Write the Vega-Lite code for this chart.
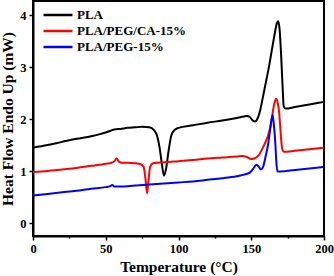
{
  "$schema": "https://vega.github.io/schema/vega-lite/v6.json",
  "width": 291,
  "height": 235,
  "autosize": {"type": "none"},
  "padding": {"left": 33, "top": 1, "right": 10, "bottom": 40},
  "config": {
    "view": {"stroke": "black", "strokeWidth": 2},
    "font": "Liberation Serif",
    "axis": {
      "domainColor": "black", "domainWidth": 2, "tickColor": "black", "tickWidth": 1.5,
      "labelFont": "Liberation Serif", "labelFontWeight": "bold", "labelFontSize": 12.5, "labelColor": "black",
      "titleFont": "Liberation Serif", "titleFontWeight": "bold", "titleFontSize": 15.5, "titleColor": "black",
      "grid": false
    }
  },
  "data": {
    "values": [
      {"s":"PLA","t":0,"v":1.45},{"s":"PLA","t":10,"v":1.5},{"s":"PLA","t":20,"v":1.56},{"s":"PLA","t":30,"v":1.62},{"s":"PLA","t":40,"v":1.67},{"s":"PLA","t":46,"v":1.71},{"s":"PLA","t":50,"v":1.74},{"s":"PLA","t":53,"v":1.77},{"s":"PLA","t":56,"v":1.8},{"s":"PLA","t":60,"v":1.81},{"s":"PLA","t":65,"v":1.83},{"s":"PLA","t":70,"v":1.84},{"s":"PLA","t":75,"v":1.85},{"s":"PLA","t":80,"v":1.84},{"s":"PLA","t":83,"v":1.79},{"s":"PLA","t":85,"v":1.7},{"s":"PLA","t":87,"v":1.45},{"s":"PLA","t":88.5,"v":1.15},{"s":"PLA","t":90,"v":0.91},{"s":"PLA","t":91.5,"v":1.05},{"s":"PLA","t":93,"v":1.35},{"s":"PLA","t":95,"v":1.68},{"s":"PLA","t":97,"v":1.78},{"s":"PLA","t":100,"v":1.83},{"s":"PLA","t":110,"v":1.88},{"s":"PLA","t":120,"v":1.93},{"s":"PLA","t":130,"v":1.97},{"s":"PLA","t":140,"v":2.02},{"s":"PLA","t":145,"v":2.05},{"s":"PLA","t":147,"v":2.06},{"s":"PLA","t":149,"v":2.04},{"s":"PLA","t":151,"v":1.97},{"s":"PLA","t":152.5,"v":1.95},{"s":"PLA","t":154,"v":1.99},{"s":"PLA","t":156,"v":2.15},{"s":"PLA","t":158,"v":2.42},{"s":"PLA","t":160,"v":2.7},{"s":"PLA","t":162,"v":2.98},{"s":"PLA","t":164,"v":3.3},{"s":"PLA","t":166,"v":3.62},{"s":"PLA","t":167.5,"v":3.83},{"s":"PLA","t":168.5,"v":3.88},{"s":"PLA","t":169.5,"v":3.72},{"s":"PLA","t":170.5,"v":3.25},{"s":"PLA","t":171.5,"v":2.65},{"s":"PLA","t":172.3,"v":2.25},{"s":"PLA","t":173.5,"v":2.2},{"s":"PLA","t":180,"v":2.23},{"s":"PLA","t":190,"v":2.28},{"s":"PLA","t":200,"v":2.33},
      {"s":"PLA/PEG/CA-15%","t":0,"v":0.98},{"s":"PLA/PEG/CA-15%","t":10,"v":1.0},{"s":"PLA/PEG/CA-15%","t":20,"v":1.03},{"s":"PLA/PEG/CA-15%","t":30,"v":1.06},{"s":"PLA/PEG/CA-15%","t":40,"v":1.1},{"s":"PLA/PEG/CA-15%","t":50,"v":1.14},{"s":"PLA/PEG/CA-15%","t":54,"v":1.16},{"s":"PLA/PEG/CA-15%","t":56,"v":1.19},{"s":"PLA/PEG/CA-15%","t":57.5,"v":1.24},{"s":"PLA/PEG/CA-15%","t":59,"v":1.18},{"s":"PLA/PEG/CA-15%","t":61,"v":1.16},{"s":"PLA/PEG/CA-15%","t":65,"v":1.16},{"s":"PLA/PEG/CA-15%","t":70,"v":1.15},{"s":"PLA/PEG/CA-15%","t":74,"v":1.13},{"s":"PLA/PEG/CA-15%","t":76,"v":1.08},{"s":"PLA/PEG/CA-15%","t":77.3,"v":0.85},{"s":"PLA/PEG/CA-15%","t":78.4,"v":0.57},{"s":"PLA/PEG/CA-15%","t":79.5,"v":0.85},{"s":"PLA/PEG/CA-15%","t":80.5,"v":1.08},{"s":"PLA/PEG/CA-15%","t":82.5,"v":1.15},{"s":"PLA/PEG/CA-15%","t":90,"v":1.17},{"s":"PLA/PEG/CA-15%","t":100,"v":1.19},{"s":"PLA/PEG/CA-15%","t":110,"v":1.21},{"s":"PLA/PEG/CA-15%","t":120,"v":1.24},{"s":"PLA/PEG/CA-15%","t":130,"v":1.26},{"s":"PLA/PEG/CA-15%","t":140,"v":1.28},{"s":"PLA/PEG/CA-15%","t":144,"v":1.29},{"s":"PLA/PEG/CA-15%","t":147,"v":1.27},{"s":"PLA/PEG/CA-15%","t":150,"v":1.23},{"s":"PLA/PEG/CA-15%","t":152,"v":1.24},{"s":"PLA/PEG/CA-15%","t":155,"v":1.3},{"s":"PLA/PEG/CA-15%","t":158,"v":1.45},{"s":"PLA/PEG/CA-15%","t":160,"v":1.57},{"s":"PLA/PEG/CA-15%","t":162,"v":1.72},{"s":"PLA/PEG/CA-15%","t":164,"v":1.98},{"s":"PLA/PEG/CA-15%","t":165.5,"v":2.25},{"s":"PLA/PEG/CA-15%","t":167,"v":2.39},{"s":"PLA/PEG/CA-15%","t":168,"v":2.33},{"s":"PLA/PEG/CA-15%","t":169.2,"v":2.12},{"s":"PLA/PEG/CA-15%","t":170.3,"v":1.7},{"s":"PLA/PEG/CA-15%","t":171.3,"v":1.42},{"s":"PLA/PEG/CA-15%","t":172.5,"v":1.37},{"s":"PLA/PEG/CA-15%","t":180,"v":1.39},{"s":"PLA/PEG/CA-15%","t":190,"v":1.42},{"s":"PLA/PEG/CA-15%","t":200,"v":1.45},
      {"s":"PLA/PEG-15%","t":0,"v":0.53},{"s":"PLA/PEG-15%","t":10,"v":0.56},{"s":"PLA/PEG-15%","t":20,"v":0.59},{"s":"PLA/PEG-15%","t":30,"v":0.62},{"s":"PLA/PEG-15%","t":40,"v":0.66},{"s":"PLA/PEG-15%","t":50,"v":0.69},{"s":"PLA/PEG-15%","t":53,"v":0.71},{"s":"PLA/PEG-15%","t":54.5,"v":0.73},{"s":"PLA/PEG-15%","t":56,"v":0.7},{"s":"PLA/PEG-15%","t":60,"v":0.7},{"s":"PLA/PEG-15%","t":70,"v":0.72},{"s":"PLA/PEG-15%","t":80,"v":0.74},{"s":"PLA/PEG-15%","t":90,"v":0.76},{"s":"PLA/PEG-15%","t":100,"v":0.78},{"s":"PLA/PEG-15%","t":110,"v":0.8},{"s":"PLA/PEG-15%","t":120,"v":0.83},{"s":"PLA/PEG-15%","t":130,"v":0.86},{"s":"PLA/PEG-15%","t":140,"v":0.9},{"s":"PLA/PEG-15%","t":145,"v":0.93},{"s":"PLA/PEG-15%","t":149,"v":0.97},{"s":"PLA/PEG-15%","t":151,"v":1.03},{"s":"PLA/PEG-15%","t":153.6,"v":1.12},{"s":"PLA/PEG-15%","t":155,"v":1.09},{"s":"PLA/PEG-15%","t":156.6,"v":1.03},{"s":"PLA/PEG-15%","t":158,"v":1.07},{"s":"PLA/PEG-15%","t":160,"v":1.3},{"s":"PLA/PEG-15%","t":161.5,"v":1.5},{"s":"PLA/PEG-15%","t":163,"v":1.8},{"s":"PLA/PEG-15%","t":164.6,"v":2.08},{"s":"PLA/PEG-15%","t":165.5,"v":1.9},{"s":"PLA/PEG-15%","t":166.5,"v":1.55},{"s":"PLA/PEG-15%","t":167.3,"v":1.15},{"s":"PLA/PEG-15%","t":168,"v":0.99},{"s":"PLA/PEG-15%","t":170,"v":0.99},{"s":"PLA/PEG-15%","t":180,"v":1.02},{"s":"PLA/PEG-15%","t":190,"v":1.05},{"s":"PLA/PEG-15%","t":200,"v":1.08}
    ]
  },
  "mark": {"type": "line", "interpolate": "monotone", "strokeWidth": 2},
  "encoding": {
    "x": {
      "field": "t", "type": "quantitative",
      "scale": {"domain": [0, 200], "nice": false, "zero": false},
      "axis": {
        "title": "Temperature (°C)",
        "values": [0, 25, 50, 75, 100, 125, 150, 175, 200],
        "labelExpr": "datum.value % 50 === 0 ? datum.label : ''",
        "tickSize": {"condition": {"test": "datum.value % 50 === 0", "value": 4}, "value": 2},
        "labelPadding": 2,
        "titlePadding": 5,
        "labelFlush": false
      }
    },
    "y": {
      "field": "v", "type": "quantitative",
      "scale": {"domain": [-0.25, 4.27], "nice": false, "zero": false},
      "axis": {
        "title": "Heat Flow Endo Up (mW)",
        "values": [0, 0.5, 1, 1.5, 2, 2.5, 3, 3.5, 4],
        "format": "d",
        "labelExpr": "datum.value % 1 === 0 ? datum.label : ''",
        "tickSize": {"condition": {"test": "datum.value % 1 === 0", "value": 4}, "value": 2},
        "labelPadding": 3,
        "titlePadding": 4
      }
    },
    "color": {
      "field": "s", "type": "nominal",
      "scale": {"domain": ["PLA", "PLA/PEG/CA-15%", "PLA/PEG-15%"], "range": ["#000000", "#ff0000", "#0000ff"]},
      "legend": {
        "title": null, "orient": "none", "legendX": 9, "legendY": 6,
        "symbolType": "stroke", "symbolSize": 841, "symbolStrokeWidth": 2.5,
        "clipHeight": 16, "rowPadding": 0, "labelOffset": 3,
        "labelFont": "Liberation Serif", "labelFontWeight": "bold", "labelFontSize": 13, "labelColor": "black"
      }
    }
  }
}
